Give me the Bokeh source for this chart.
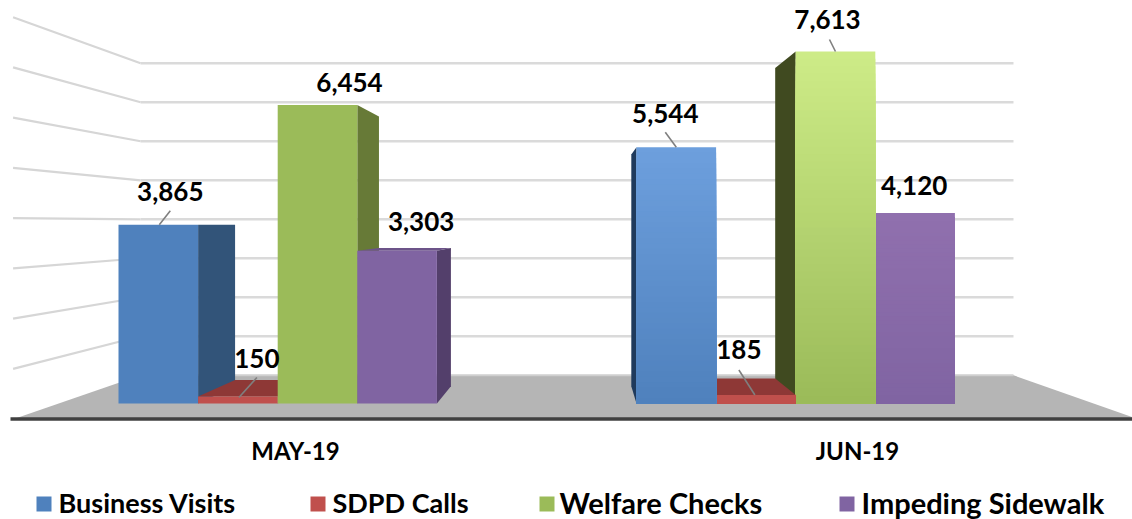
from bokeh.plotting import figure
from bokeh.models import Range1d
from bokeh.core.properties import value
from bokeh.embed import file_html
from bokeh.resources import INLINE

months = ["MAY-19", "JUN-19"]
series = ["Business Visits", "SDPD Calls", "Welfare Checks", "Impeding Sidewalk"]
business_visits = [3865, 5544]
sdpd_calls = [150, 185]
welfare_checks = [6454, 7613]
impeding_sidewalk = [3303, 4120]
axis_ticks = [0, 1000, 2000, 3000, 4000, 5000, 6000, 7000, 8000]
values = [business_visits, sdpd_calls, welfare_checks, impeding_sidewalk]

# ---- layout / projection ----
W, H = 1132, 519
PX = 352 / 7613          # pixels per unit on the bars' front plane
BASE = 403               # image y of value 0
V_X, V_V = 582, 3900     # vanishing point
BAR_D, BACK_D, FRONT_D = 0.0962, 0.1566, -0.0867
WALL_L, WALL_R = 58, 1093
GROUP_X = [118, 636]
BAR_W = 79.6
FONT = value("Lato")


def yv(y):
    return (BASE - y) / PX


def proj(x, v, d):
    return x + d * (V_X - x), v + d * (V_V - v)


front_top = ["#6d9fdd", "#c0504d", "#cdeb87", "#9070ae"]
front_bot = ["#4f81bd", "#c0504d", "#9bbb59", "#8064a2"]
side_col = [["#325479", "#8e3836", "#677a37", "#533f6b"],
            ["#1f3a5c", "#8e3836", "#404a20", "#533f6b"]]
top_col = ["#3c6595", "#8e3836", "#7a9544", "#6c5389"]
label_off = [[(12, -33), (19, -38), (32, -23), (24, -29)],
             [(-11, -34), (-17, -45), (-8, -32), (-1, -28)]]
leader_off = [[(1, 0, 12, -14), (1, 1, 19, -19), None, None],
              [(0, 0, -11, -15), (-1, 0, -17, -25), (0, 0, -6, -12), None]]

p = figure(width=W, height=H, output_backend="svg", toolbar_location=None,
           x_range=Range1d(0, W), y_range=Range1d(yv(H), yv(0)),
           x_axis_location=None, y_axis_location=None,
           min_border=0, outline_line_color=None, tools="")
p.grid.visible = False
p.background_fill_color = "white"
p.border_fill_color = "white"

# floor
fx, fy = [], []
for x, d in [(WALL_L, FRONT_D), (WALL_L, BACK_D), (WALL_R, BACK_D), (WALL_R, FRONT_D)]:
    a, b = proj(x, 0, d)
    fx.append(a)
    fy.append(b)
p.patch(fx, fy, fill_color="#b5b5b5", line_color=None)
p.line(fx[1:3], fy[1:3], line_color="#cfcfcf", line_width=2)
p.line([10, W], [fy[0] + 1, fy[3] + 1], line_color="#404040", line_width=3.5)

# gridlines on the side wall and the back wall
for t in axis_ticks[1:]:
    x0, v0 = proj(WALL_L, t, FRONT_D)
    x1, v1 = proj(WALL_L, t, BACK_D)
    x2, v2 = proj(WALL_R, t, BACK_D)
    p.line([x0, x1], [v0, v1], line_color="#d6d6d6", line_width=2.2)
    p.line([x1, x2], [v1, v2], line_color="#dadada", line_width=2.4)


def mix(c0, c1, t):
    a = [int(c0[i:i + 2], 16) for i in (1, 3, 5)]
    b = [int(c1[i:i + 2], 16) for i in (1, 3, 5)]
    return "#%02x%02x%02x" % tuple(round(u + (w - u) * t) for u, w in zip(a, b))


def draw_bar(g, s):
    v = values[s][g]
    x0 = GROUP_X[g] + s * BAR_W
    x1 = x0 + BAR_W
    # top face, when it faces the viewer
    if v < V_V:
        a, b = proj(x0, v, BAR_D)
        c, d = proj(x1, v, BAR_D)
        p.patch([x0, x1, c, a], [v, v, d, b], fill_color=top_col[s], line_color=None)
    # side face towards the vanishing point
    xs = x1 if x1 < V_X else x0
    if s != 3 or g == 0:
        a, b = proj(xs, v, BAR_D)
        c, d = proj(xs, 0, BAR_D)
        p.patch([xs, a, c, xs], [v, b, d, 0], fill_color=side_col[g][s], line_color=None)
    # front face
    if g == 0:
        p.quad(left=[x0], right=[x1], bottom=[0], top=[v],
               fill_color=front_bot[s], line_color=None)
    else:
        n = 48
        for i in range(n):
            t = i / (n - 1)
            p.quad(left=[x0], right=[x1], bottom=[0], top=[v * (1 - i / n)],
                   fill_color=mix(front_top[s], front_bot[s], t), line_color=None)


for s in range(4):
    draw_bar(0, s)
for s in (3, 2, 1, 0):
    draw_bar(1, s)

# leaders and value labels
for g in range(2):
    for s in range(4):
        v = values[s][g]
        cx = GROUP_X[g] + (s + 0.5) * BAR_W
        lo = leader_off[g][s]
        if lo:
            p.line([cx + lo[0], cx + lo[2]], [v - lo[1] / PX, v - lo[3] / PX],
                   line_color="#7f7f7f", line_width=1.6)
        dx, dy = label_off[g][s]
        p.text([cx], [v], text=[f"{v:,}"], x_offset=dx, y_offset=dy,
               text_font=FONT, text_font_style="bold", text_font_size="26px",
               text_color="black", text_align="center", text_baseline="middle")

# category labels
p.text([295, 857], [yv(450)] * 2, text=months, text_font=FONT, text_font_style="bold",
       text_font_size="24px", text_color="black", text_align="center", text_baseline="middle")

# legend
legend_sq = [43.5, 317.5, 546.5, 846.5]
legend_tx = [58, 332, 559, 861]
legend_fs = ["27px", "27px", "29px", "29px"]
for s in range(4):
    p.scatter([legend_sq[s]], [yv(503.5)], marker="square", size=15,
              fill_color=front_bot[s], line_color=None)
    p.text([legend_tx[s]], [yv(502)], text=[series[s]], text_font=FONT, text_font_style="bold",
           text_font_size=legend_fs[s], text_color="black", text_align="left", text_baseline="middle")

open("out.html", "w").write(file_html(p, INLINE))
